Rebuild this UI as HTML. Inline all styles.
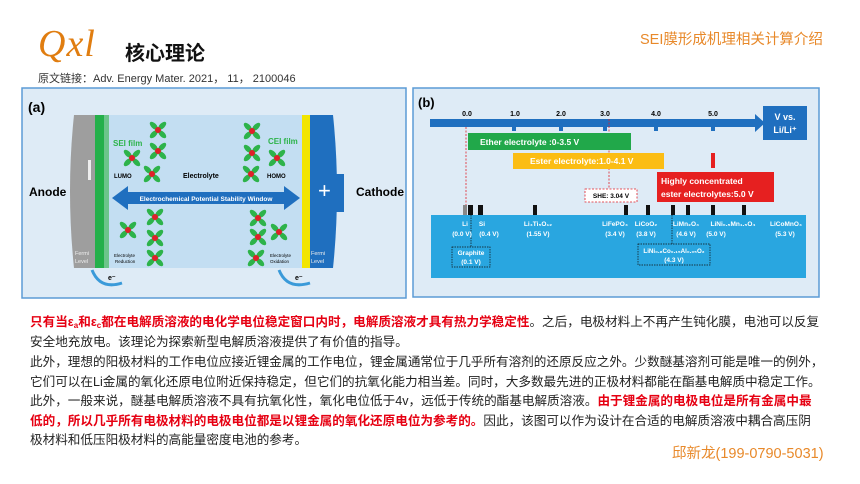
<!DOCTYPE html>
<html><head><meta charset="utf-8"><style>
body{margin:0;width:860px;height:484px;background:#fff;position:relative;overflow:hidden;font-family:"Liberation Sans","Noto Sans CJK SC",sans-serif}
.a{position:absolute;white-space:nowrap}
.p{position:absolute;left:30px;white-space:nowrap;font-size:12.6px;line-height:19.5px;color:#222;font-family:"Liberation Sans","Noto Sans CJK SC",sans-serif}
.r{color:#e60012;font-weight:bold}
sub{font-size:8px;line-height:0;vertical-align:-2px}
</style></head><body>
<div class="a" style="left:38px;top:22px;font-family:'Liberation Serif',serif;font-style:italic;font-size:38px;color:#e07d10;letter-spacing:1px">Qxl</div>
<div class="a" style="left:125px;top:37px;font-size:20px;font-weight:bold;color:#111">核心理论</div>
<div class="a" style="left:38px;top:70px;font-size:11px;color:#333">原文链接：Adv. Energy Mater. 2021， 11， 2100046</div>
<div class="a" style="left:640px;top:28px;font-size:14.5px;color:#e8892a">SEI膜形成机理相关计算介绍</div>

<svg class="a" style="left:0;top:0" width="860" height="300">
<defs>
<g id="m"><ellipse cx="0" cy="-6" rx="2.6" ry="5" fill="#2db34a" transform="rotate(45)"/><ellipse cx="0" cy="-6" rx="2.6" ry="5" fill="#2db34a" transform="rotate(135)"/><ellipse cx="0" cy="-6" rx="2.6" ry="5" fill="#2db34a" transform="rotate(225)"/><ellipse cx="0" cy="-6" rx="2.6" ry="5" fill="#2db34a" transform="rotate(315)"/><circle r="3" fill="#e0202a"/></g>
</defs>
<rect x="22" y="88" width="384" height="210" fill="#deebf6" stroke="#5b9bd5" stroke-width="1.5"/>
<text x="28" y="112" font-size="14" font-weight="bold" font-family="Liberation Sans">(a)</text>
<rect x="74" y="115" width="240" height="153" fill="#c3def2"/>
<path d="M74 115 L98 115 L98 268 L74 268 Q66 191 74 115Z" fill="#9e9e9e"/>
<rect x="95" y="115" width="12" height="153" fill="#24b04a"/>
<rect x="104" y="115" width="5" height="153" fill="#6cc58a"/>
<rect x="302" y="115" width="9" height="153" fill="#f2e500"/>
<path d="M310 115 L333 115 Q341 191 333 268 L310 268Z" fill="#1f6fbf"/>
<rect x="334" y="174" width="10" height="38" fill="#1f6fbf"/>
<rect x="88" y="160" width="3" height="20" fill="#eee"/>
<text x="318" y="198" font-size="22" fill="#fff" font-family="Liberation Sans">+</text>
<text x="29" y="196" font-size="12" font-weight="bold" font-family="Liberation Sans">Anode</text>
<text x="356" y="196" font-size="12" font-weight="bold" font-family="Liberation Sans">Cathode</text>
<path d="M112 198 L128 186 L128 192 L284 192 L284 186 L300 198 L284 210 L284 204 L128 204 L128 210Z" fill="#1f6fbf"/>
<text x="206" y="201" font-size="6.5" fill="#fff" text-anchor="middle" font-weight="bold">Electrochemical Potential Stability Window</text>
<text x="113" y="146" font-size="8" fill="#2db34a" font-weight="bold">SEI film</text>
<text x="268" y="144" font-size="8" fill="#2db34a" font-weight="bold">CEI film</text>
<text x="114" y="178" font-size="6" font-weight="bold">LUMO</text>
<text x="183" y="178" font-size="7" font-weight="bold">Electrolyte</text>
<text x="267" y="178" font-size="6" font-weight="bold">HOMO</text>
<text x="114" y="257" font-size="4.5">Electrolyte</text><text x="115" y="263" font-size="4.5">Reduction</text>
<text x="270" y="257" font-size="4.5">Electrolyte</text><text x="270" y="263" font-size="4.5">Oxidation</text>
<text x="75" y="255" font-size="5.5" fill="#eee">Fermi</text><text x="75" y="263" font-size="5.5" fill="#eee">Level</text>
<text x="311" y="255" font-size="5.5" fill="#eee">Fermi</text><text x="311" y="263" font-size="5.5" fill="#eee">Level</text>
<path d="M92 270 Q100 290 122 283" stroke="#3a9ad9" stroke-width="3" fill="none"/>
<path d="M279 270 Q287 290 310 283" stroke="#3a9ad9" stroke-width="3" fill="none"/>
<text x="108" y="280" font-size="7" font-weight="bold">e⁻</text><text x="295" y="280" font-size="7" font-weight="bold">e⁻</text>
<use href="#m" x="158" y="130"/><use href="#m" x="158" y="151"/><use href="#m" x="132" y="158"/><use href="#m" x="152" y="174"/>
<use href="#m" x="252" y="131"/><use href="#m" x="252" y="153"/><use href="#m" x="277" y="158"/><use href="#m" x="251" y="174"/>
<use href="#m" x="155" y="217"/><use href="#m" x="128" y="230"/><use href="#m" x="155" y="238"/><use href="#m" x="155" y="258"/>
<use href="#m" x="258" y="218"/><use href="#m" x="258" y="237"/><use href="#m" x="279" y="232"/><use href="#m" x="256" y="258"/>
<rect x="413" y="88" width="406" height="209" fill="#deebf6" stroke="#5b9bd5" stroke-width="1.5"/>
<text x="418" y="107" font-size="13" font-weight="bold">(b)</text>
<path d="M430 119 L755 119 L755 114 L765 123 L755 132 L755 127 L430 127Z" fill="#1f6fbf"/>
<rect x="763" y="106" width="44" height="34" fill="#1f6fbf"/>
<text x="785" y="120" font-size="9" fill="#fff" font-weight="bold" text-anchor="middle">V vs.</text>
<text x="785" y="133" font-size="9" fill="#fff" font-weight="bold" text-anchor="middle">Li/Li⁺</text>
<g font-size="7" font-weight="bold" text-anchor="middle"><text x="467" y="116">0.0</text><text x="515" y="116">1.0</text><text x="561" y="116">2.0</text><text x="605" y="116">3.0</text><text x="656" y="116">4.0</text><text x="713" y="116">5.0</text></g>
<g fill="#1f6fbf"><rect x="512" y="126" width="4" height="5"/><rect x="559" y="126" width="4" height="5"/><rect x="603" y="126" width="4" height="5"/><rect x="654" y="126" width="4" height="5"/><rect x="711" y="126" width="4" height="5"/></g>
<line x1="466" y1="127" x2="466" y2="215" stroke="#e0202a" stroke-dasharray="2,1.5" stroke-width="0.8"/>
<line x1="609" y1="119" x2="609" y2="189" stroke="#e0202a" stroke-dasharray="2,1.5" stroke-width="0.8"/>
<rect x="468" y="133" width="163" height="17" fill="#21a84a"/>
<text x="480" y="145" font-size="8.5" fill="#fff" font-weight="bold">Ether electrolyte :0-3.5 V</text>
<rect x="513" y="153" width="151" height="16" fill="#fbbd14"/>
<text x="530" y="164" font-size="8.5" fill="#fff" font-weight="bold">Ester electrolyte:1.0-4.1 V</text>
<rect x="711" y="153" width="4" height="15" fill="#e62020"/>
<rect x="657" y="172" width="117" height="30" fill="#e62020"/>
<text x="661" y="184" font-size="8.5" fill="#fff" font-weight="bold">Highly concentrated</text>
<text x="661" y="197" font-size="8.5" fill="#fff" font-weight="bold">ester electrolytes:5.0 V</text>
<rect x="585" y="189" width="52" height="13" fill="#fff" stroke="#e0202a" stroke-dasharray="2,1.5" stroke-width="0.8"/>
<text x="611" y="198" font-size="6.5" font-weight="bold" text-anchor="middle">SHE: 3.04 V</text>
<rect x="431" y="215" width="375" height="63" fill="#29a6e0"/>
<rect x="463" y="205" width="4" height="10" fill="#888"/>
<g fill="#111"><rect x="468" y="205" width="5" height="10"/><rect x="478" y="205" width="5" height="10"/><rect x="533" y="205" width="4" height="10"/><rect x="624" y="205" width="4" height="10"/><rect x="646" y="205" width="4" height="10"/><rect x="671" y="205" width="4" height="10"/><rect x="686" y="205" width="4" height="10"/><rect x="711" y="205" width="4" height="10"/><rect x="742" y="205" width="4" height="10"/></g>
<line x1="471" y1="215" x2="471" y2="247" stroke="#111" stroke-dasharray="1.5,1" stroke-width="0.7"/>
<line x1="672" y1="215" x2="672" y2="244" stroke="#111" stroke-dasharray="1.5,1" stroke-width="0.7"/>
<g font-size="6.5" fill="#fff" font-weight="bold" text-anchor="middle">
<text x="465" y="226">Li</text><text x="462" y="236">(0.0 V)</text>
<text x="482" y="226">Si</text><text x="489" y="236">(0.4 V)</text>
<text x="538" y="226">Li₄Ti₅O₁₂</text><text x="538" y="236">(1.55 V)</text>
<text x="615" y="226">LiFePO₄</text><text x="615" y="236">(3.4 V)</text>
<text x="646" y="226">LiCoO₂</text><text x="646" y="236">(3.8 V)</text>
<text x="686" y="226">LiMn₂O₄</text><text x="686" y="236">(4.6 V)</text>
<text x="733" y="226">LiNi₀.₅Mn₁.₅O₄</text><text x="716" y="236">(5.0 V)</text>
<text x="786" y="226">LiCoMnO₄</text><text x="785" y="236">(5.3 V)</text>
</g>
<rect x="452" y="247" width="38" height="20" fill="none" stroke="#111" stroke-dasharray="1.5,1" stroke-width="0.7"/>
<text x="471" y="255" font-size="6.5" font-weight="bold" fill="#fff" text-anchor="middle">Graphite</text>
<text x="471" y="264" font-size="6.5" font-weight="bold" fill="#fff" text-anchor="middle">(0.1 V)</text>
<rect x="638" y="244" width="72" height="21" fill="none" stroke="#111" stroke-dasharray="1.5,1" stroke-width="0.7"/>
<text x="674" y="253" font-size="6.2" font-weight="bold" fill="#fff" text-anchor="middle">LiNi₀.₈Co₀.₁₅Al₀.₀₅O₂</text>
<text x="674" y="262" font-size="6.5" font-weight="bold" fill="#fff" text-anchor="middle">(4.3 V)</text>
</svg>

<div class="p" style="top:313px"><span class="r">只有当ε<sub>a</sub>和ε<sub>c</sub>都在电解质溶液的电化学电位稳定窗口内时，电解质溶液才具有热力学稳定性</span>。之后，电极材料上不再产生钝化膜，电池可以反复<br>安全地充放电。该理论为探索新型电解质溶液提供了有价值的指导。</div>
<div class="p" style="top:353px">此外，理想的阳极材料的工作电位应接近锂金属的工作电位，锂金属通常位于几乎所有溶剂的还原反应之外。少数醚基溶剂可能是唯一的例外，<br>它们可以在Li金属的氧化还原电位附近保持稳定，但它们的抗氧化能力相当差。同时，大多数最先进的正极材料都能在酯基电解质中稳定工作。<br>此外，一般来说，醚基电解质溶液不具有抗氧化性，氧化电位低于4v，远低于传统的酯基电解质溶液。<span class="r">由于锂金属的电极电位是所有金属中最<br>低的，所以几乎所有电极材料的电极电位都是以锂金属的氧化还原电位为参考的。</span>因此，该图可以作为设计在合适的电解质溶液中耦合高压阴<br>极材料和低压阳极材料的高能量密度电池的参考。</div>
<div class="a" style="left:672px;top:442px;font-size:14.5px;color:#e8892a">邱新龙(199-0790-5031)</div>
</body></html>
